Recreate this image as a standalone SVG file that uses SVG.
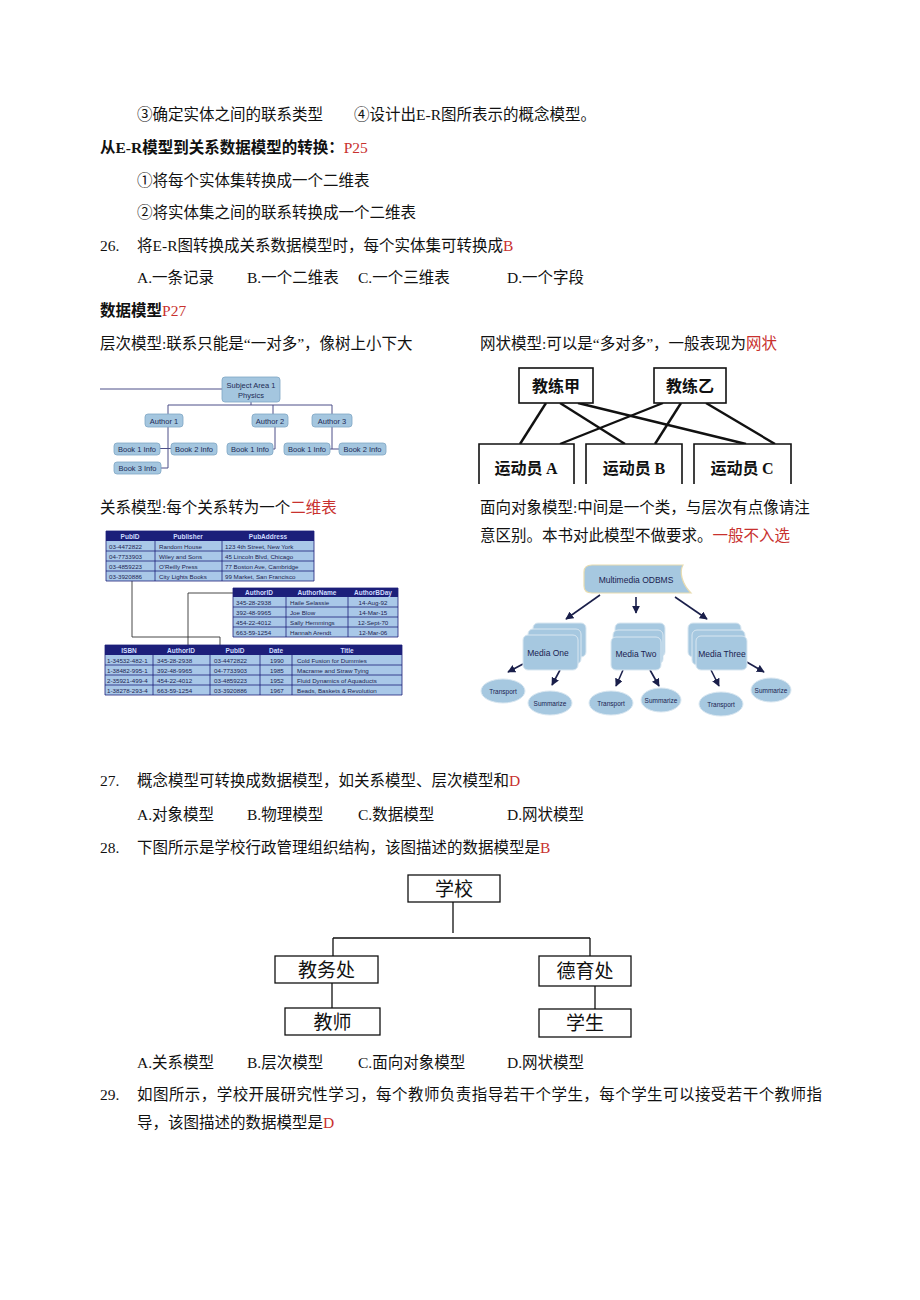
<svg xmlns="http://www.w3.org/2000/svg" width="920" height="1300" viewBox="0 0 920 1300">
<style>
.t{font-family:"Liberation Serif","Noto Sans CJK SC",serif;font-size:15.5px;fill:#111}
.b{font-weight:bold}
.r{fill:#c8312e}
.hb{fill:#a4c6df;stroke:#7fa6c4;stroke-width:0.8}
.ht{font-family:"Liberation Sans",Arial,sans-serif;font-size:7.5px;fill:#1d2b55;text-anchor:middle}
.hl{stroke:#4d4f88;stroke-width:1;fill:none}
.nb{fill:#fff;stroke:#111;stroke-width:1.6}
.nt{font-family:"Noto Sans CJK SC",sans-serif;font-weight:bold;font-size:16px;fill:#111;text-anchor:middle}
.nl{stroke:#111;stroke-width:2.4}
.th{fill:#1c1f7a}
.tb{fill:#a9c8e8}
.tg{stroke:#1c1f7a;stroke-width:0.8;fill:none}
.tht{font-family:"Liberation Sans",Arial,sans-serif;font-size:6.5px;fill:#cfdcff;font-weight:bold;text-anchor:middle}
.tdt{font-family:"Liberation Sans",Arial,sans-serif;font-size:6.2px;fill:#1c2350}
.tl{stroke:#333;stroke-width:0.9;fill:none}
.ob{fill:#a6c8e0;stroke:#d9e7f1;stroke-width:1}
.ot{font-family:"Liberation Sans",Arial,sans-serif;fill:#1a2250;text-anchor:middle}
.oa{stroke:#1a1f4a;stroke-width:1.6;fill:none;marker-end:url(#ah)}
.sb{fill:#fff;stroke:#111;stroke-width:1.3}
.st{font-family:"Noto Sans CJK SC",sans-serif;font-size:19px;fill:#111;text-anchor:middle}
.sl{stroke:#111;stroke-width:1.3;fill:none}
</style>
<defs>
<marker id="ah" viewBox="0 0 10 10" refX="9" refY="5" markerWidth="5" markerHeight="5" orient="auto">
<path d="M0,0 L10,5 L0,10 Z" fill="#1a1f4a"/>
</marker>
</defs>
<rect width="920" height="1300" fill="#fff"/>

<!-- body text -->
<g id="text">
<text class="t" x="137" y="120">③确定实体之间的联系类型</text>
<text class="t" x="354" y="120">④设计出E-R图所表示的概念模型。</text>
<text class="t b" x="100" y="153">从E-R模型到关系数据模型的转换：<tspan class="r" font-weight="normal">P25</tspan></text>
<text class="t" x="137" y="186">①将每个实体集转换成一个二维表</text>
<text class="t" x="137" y="218">②将实体集之间的联系转换成一个二维表</text>
<text class="t" x="100" y="251">26.</text>
<text class="t" x="137" y="251">将E-R图转换成关系数据模型时，每个实体集可转换成<tspan class="r">B</tspan></text>
<text class="t" x="137" y="283">A.一条记录</text>
<text class="t" x="247" y="283">B.一个二维表</text>
<text class="t" x="358" y="283">C.一个三维表</text>
<text class="t" x="507" y="283">D.一个字段</text>
<text class="t b" x="100" y="316">数据模型<tspan class="r" font-weight="normal">P27</tspan></text>
<text class="t" x="100" y="349">层次模型:联系只能是“一对多”，像树上小下大</text>
<text class="t" x="480" y="349">网状模型:可以是“多对多”，一般表现为<tspan class="r">网状</tspan></text>
<text class="t" x="100" y="513">关系模型:每个关系转为一个<tspan class="r">二维表</tspan></text>
<text class="t" x="480" y="513">面向对象模型:中间是一个类，与层次有点像请注</text>
<text class="t" x="480" y="541">意区别。本书对此模型不做要求。<tspan class="r">一般不入选</tspan></text>
<text class="t" x="100" y="786">27.</text>
<text class="t" x="137" y="786">概念模型可转换成数据模型，如关系模型、层次模型和<tspan class="r">D</tspan></text>
<text class="t" x="137" y="820">A.对象模型</text>
<text class="t" x="247" y="820">B.物理模型</text>
<text class="t" x="358" y="820">C.数据模型</text>
<text class="t" x="507" y="820">D.网状模型</text>
<text class="t" x="100" y="853">28.</text>
<text class="t" x="137" y="853">下图所示是学校行政管理组织结构，该图描述的数据模型是<tspan class="r">B</tspan></text>
<text class="t" x="137" y="1068">A.关系模型</text>
<text class="t" x="247" y="1068">B.层次模型</text>
<text class="t" x="358" y="1068">C.面向对象模型</text>
<text class="t" x="507" y="1068">D.网状模型</text>
<text class="t" x="100" y="1100">29.</text>
<text class="t" x="137" y="1100" textLength="685" lengthAdjust="spacing">如图所示，学校开展研究性学习，每个教师负责指导若干个学生，每个学生可以接受若干个教师指</text>
<text class="t" x="137" y="1128">导，该图描述的数据模型是<tspan class="r">D</tspan></text>
</g>

<!-- hierarchical model picture -->
<g id="hier-connectors">
<path class="hl" d="M100,389 H222 M251,402 V405 M168,405 H332 M168,405 V414 M273,405 V414 M332,405 V414 M168,427 V468 H161 M160,448.5 H171 M275,427 V449 H273 M332,427 V449 M330,449 H339"/>
</g>
<g id="h-subject"><rect class="hb" x="222" y="377" width="58" height="25" rx="3"/><text class="ht" x="251" y="387.5">Subject Area 1</text><text class="ht" x="251" y="397.5">Physics</text></g>
<g id="h-author1"><rect class="hb" x="145" y="414" width="38" height="13" rx="3"/><text class="ht" x="164" y="423.5">Author 1</text></g>
<g id="h-author2"><rect class="hb" x="252" y="414" width="36" height="13" rx="3"/><text class="ht" x="270" y="423.5">Author 2</text></g>
<g id="h-author3"><rect class="hb" x="312" y="414" width="40" height="13" rx="3"/><text class="ht" x="332" y="423.5">Author 3</text></g>
<g id="h-a1b1"><rect class="hb" x="114" y="443" width="46" height="12" rx="3"/><text class="ht" x="137" y="452">Book 1 Info</text></g>
<g id="h-a1b2"><rect class="hb" x="171" y="443" width="46" height="12" rx="3"/><text class="ht" x="194" y="452">Book 2 Info</text></g>
<g id="h-a1b3"><rect class="hb" x="114" y="462" width="47" height="12" rx="3"/><text class="ht" x="137.5" y="471">Book 3 Info</text></g>
<g id="h-a2b1"><rect class="hb" x="227" y="443" width="46" height="12" rx="3"/><text class="ht" x="250" y="452">Book 1 Info</text></g>
<g id="h-a3b1"><rect class="hb" x="284" y="443" width="46" height="12" rx="3"/><text class="ht" x="307" y="452">Book 1 Info</text></g>
<g id="h-a3b2"><rect class="hb" x="339" y="443" width="47" height="12" rx="3"/><text class="ht" x="362.5" y="452">Book 2 Info</text></g>

<!-- network model picture -->
<g id="net-connectors">
<line class="nl" x1="546" y1="403" x2="520" y2="444"/>
<line class="nl" x1="560" y1="403" x2="625" y2="444"/>
<line class="nl" x1="578" y1="403" x2="746" y2="444"/>
<line class="nl" x1="663" y1="403" x2="560" y2="444"/>
<line class="nl" x1="681" y1="403" x2="655" y2="444"/>
<line class="nl" x1="706" y1="403" x2="775" y2="444"/>
</g>
<g id="n-coachA"><rect class="nb" x="519" y="368" width="74" height="35"/><text class="nt" x="556" y="392">教练甲</text></g>
<g id="n-coachB"><rect class="nb" x="654" y="368" width="72" height="35"/><text class="nt" x="690" y="392">教练乙</text></g>
<g id="n-athA"><path class="nb" d="M479,484 V444 H574 V484"/><text class="nt" x="526" y="474">运动员 <tspan font-family="Liberation Serif">A</tspan></text></g>
<g id="n-athB"><path class="nb" d="M586,484 V444 H682 V484"/><text class="nt" x="634" y="474">运动员 <tspan font-family="Liberation Serif">B</tspan></text></g>
<g id="n-athC"><path class="nb" d="M694,484 V444 H791 V484"/><text class="nt" x="742" y="474">运动员 <tspan font-family="Liberation Serif">C</tspan></text></g>

<!-- relational model tables -->
<g id="table-connectors">
<path class="tl" d="M132,581 V637 H220 V645 M188,645 V593 H233"/>
</g>
<g id="t-publisher">
<rect class="th" x="106" y="531" width="208" height="10"/>
<rect class="tb" x="106" y="541" width="208" height="40"/>
<path class="tg" d="M106,531 H314 V581 H106 Z M106,551 H314 M106,561 H314 M106,571 H314 M155,541 V581 M222,541 V581"/>
<text class="tht" x="130" y="538.5">PubID</text><text class="tht" x="188" y="538.5">Publisher</text><text class="tht" x="268" y="538.5">PubAddress</text>
<text class="tdt" x="109" y="548.5">03-4472822</text><text class="tdt" x="159" y="548.5">Random House</text><text class="tdt" x="225" y="548.5">123 4th Street, New York</text>
<text class="tdt" x="109" y="558.5">04-7733903</text><text class="tdt" x="159" y="558.5">Wiley and Sons</text><text class="tdt" x="225" y="558.5">45 Lincoln Blvd, Chicago</text>
<text class="tdt" x="109" y="568.5">03-4859223</text><text class="tdt" x="159" y="568.5">O'Reilly Press</text><text class="tdt" x="225" y="568.5">77 Boston Ave, Cambridge</text>
<text class="tdt" x="109" y="578.5">03-3920886</text><text class="tdt" x="159" y="578.5">City Lights Books</text><text class="tdt" x="225" y="578.5">99 Market, San Francisco</text>
</g>
<g id="t-author">
<rect class="th" x="233" y="588" width="165" height="9"/>
<rect class="tb" x="233" y="597" width="165" height="40"/>
<path class="tg" d="M233,588 H398 V637 H233 Z M233,607 H398 M233,617 H398 M233,627 H398 M286,597 V637 M348,597 V637"/>
<text class="tht" x="259" y="595">AuthorID</text><text class="tht" x="317" y="595">AuthorName</text><text class="tht" x="373" y="595">AuthorBDay</text>
<text class="tdt" x="236" y="604.5">345-28-2938</text><text class="tdt" x="290" y="604.5">Haile Selassie</text><text class="tdt" x="373" y="604.5" text-anchor="middle">14-Aug-92</text>
<text class="tdt" x="236" y="614.5">392-48-9965</text><text class="tdt" x="290" y="614.5">Joe Blow</text><text class="tdt" x="373" y="614.5" text-anchor="middle">14-Mar-15</text>
<text class="tdt" x="236" y="624.5">454-22-4012</text><text class="tdt" x="290" y="624.5">Sally Hemmings</text><text class="tdt" x="373" y="624.5" text-anchor="middle">12-Sept-70</text>
<text class="tdt" x="236" y="634.5">663-59-1254</text><text class="tdt" x="290" y="634.5">Hannah Arendt</text><text class="tdt" x="373" y="634.5" text-anchor="middle">12-Mar-06</text>
</g>
<g id="t-book">
<rect class="th" x="105" y="645" width="297" height="10"/>
<rect class="tb" x="105" y="655" width="297" height="40"/>
<path class="tg" d="M105,645 H402 V695 H105 Z M105,665 H402 M105,675 H402 M105,685 H402 M153,655 V695 M210,655 V695 M260,655 V695 M292,655 V695"/>
<text class="tht" x="129" y="652.5">ISBN</text><text class="tht" x="181" y="652.5">AuthorID</text><text class="tht" x="235" y="652.5">PubID</text><text class="tht" x="276" y="652.5">Date</text><text class="tht" x="347" y="652.5">Title</text>
<text class="tdt" x="107" y="662.5">1-34532-482-1</text><text class="tdt" x="157" y="662.5">345-28-2938</text><text class="tdt" x="214" y="662.5">03-4472822</text><text class="tdt" x="270" y="662.5">1990</text><text class="tdt" x="297" y="662.5">Cold Fusion for Dummies</text>
<text class="tdt" x="107" y="672.5">1-38482-995-1</text><text class="tdt" x="157" y="672.5">392-48-9965</text><text class="tdt" x="214" y="672.5">04-7733903</text><text class="tdt" x="270" y="672.5">1985</text><text class="tdt" x="297" y="672.5">Macrame and Straw Tying</text>
<text class="tdt" x="107" y="682.5">2-35921-499-4</text><text class="tdt" x="157" y="682.5">454-22-4012</text><text class="tdt" x="214" y="682.5">03-4859223</text><text class="tdt" x="270" y="682.5">1952</text><text class="tdt" x="297" y="682.5">Fluid Dynamics of Aquaducts</text>
<text class="tdt" x="107" y="692.5">1-38278-293-4</text><text class="tdt" x="157" y="692.5">663-59-1254</text><text class="tdt" x="214" y="692.5">03-3920886</text><text class="tdt" x="270" y="692.5">1967</text><text class="tdt" x="297" y="692.5">Beads, Baskets &amp; Revolution</text>
</g>

<!-- object-oriented model picture -->
<g id="oo-connectors">
<line class="oa" x1="600" y1="595" x2="566" y2="619"/>
<line class="oa" x1="636" y1="597" x2="636" y2="613"/>
<line class="oa" x1="675" y1="597" x2="707" y2="619"/>
<line class="oa" x1="523" y1="664" x2="508" y2="672"/>
<line class="oa" x1="560" y1="670" x2="552" y2="685"/>
<line class="oa" x1="623" y1="670" x2="616" y2="686"/>
<line class="oa" x1="650" y1="670" x2="659" y2="686"/>
<line class="oa" x1="711" y1="670" x2="719" y2="686"/>
<line class="oa" x1="745" y1="661" x2="764" y2="672"/>
</g>
<g id="o-root">
<path d="M592,565 H683 C679,572 682,584 691,593 H592 Q584,593 584,586 V572 Q584,565 592,565 Z" fill="#a6c8e0" stroke="#e8dcb0" stroke-width="1.2"/>
<text class="ot" x="636" y="583" font-size="8.5px">Multimedia ODBMS</text>
</g>
<g id="o-media1">
<rect class="ob" x="533" y="623" width="53" height="34" rx="5"/>
<rect class="ob" x="528" y="629" width="53" height="35" rx="5"/>
<rect class="ob" x="523" y="635" width="55" height="35" rx="5"/>
<text class="ot" x="548" y="656" font-size="8.5px">Media One</text>
</g>
<g id="o-media2">
<rect class="ob" x="615" y="623" width="50" height="34" rx="5"/>
<rect class="ob" x="613" y="630" width="50" height="34" rx="5"/>
<rect class="ob" x="611" y="637" width="50" height="33" rx="5"/>
<text class="ot" x="636" y="657" font-size="8.5px">Media Two</text>
</g>
<g id="o-media3">
<rect class="ob" x="688" y="623" width="53" height="34" rx="5"/>
<rect class="ob" x="692" y="630" width="53" height="35" rx="5"/>
<rect class="ob" x="696" y="636" width="51" height="34" rx="5"/>
<text class="ot" x="722" y="657" font-size="8.5px">Media Three</text>
</g>
<g id="o-t1"><ellipse class="ob" cx="503" cy="691" rx="22" ry="12"/><text class="ot" x="503" y="693.5" font-size="6.5px">Transport</text></g>
<g id="o-s1"><ellipse class="ob" cx="550" cy="703" rx="22" ry="12"/><text class="ot" x="550" y="705.5" font-size="6.5px">Summarize</text></g>
<g id="o-t2"><ellipse class="ob" cx="611" cy="703" rx="22" ry="12"/><text class="ot" x="611" y="705.5" font-size="6.5px">Transport</text></g>
<g id="o-s2"><ellipse class="ob" cx="661" cy="700" rx="20" ry="12"/><text class="ot" x="661" y="702.5" font-size="6.5px">Summarize</text></g>
<g id="o-t3"><ellipse class="ob" cx="721" cy="704" rx="22" ry="12"/><text class="ot" x="721" y="706.5" font-size="6.5px">Transport</text></g>
<g id="o-s3"><ellipse class="ob" cx="771" cy="690" rx="20" ry="12"/><text class="ot" x="771" y="692.5" font-size="6.5px">Summarize</text></g>

<!-- school org chart -->
<g id="school-connectors">
<path class="sl" d="M453,902 V933 M333,938 H590 M333,938 V956 M590,938 V956 M332,983 V1008 M595,986 V1009"/>
</g>
<g id="s-school"><rect class="sb" x="408" y="875" width="92" height="27"/><text class="st" x="454" y="895.5">学校</text></g>
<g id="s-jwc"><rect class="sb" x="275" y="956" width="103" height="27"/><text class="st" x="326.5" y="976.5">教务处</text></g>
<g id="s-teacher"><rect class="sb" x="285" y="1008" width="95" height="27"/><text class="st" x="332.5" y="1028.5">教师</text></g>
<g id="s-dyc"><rect class="sb" x="539" y="956" width="92" height="30"/><text class="st" x="585" y="978">德育处</text></g>
<g id="s-student"><rect class="sb" x="539" y="1009" width="92" height="28"/><text class="st" x="585" y="1030">学生</text></g>
</svg>
